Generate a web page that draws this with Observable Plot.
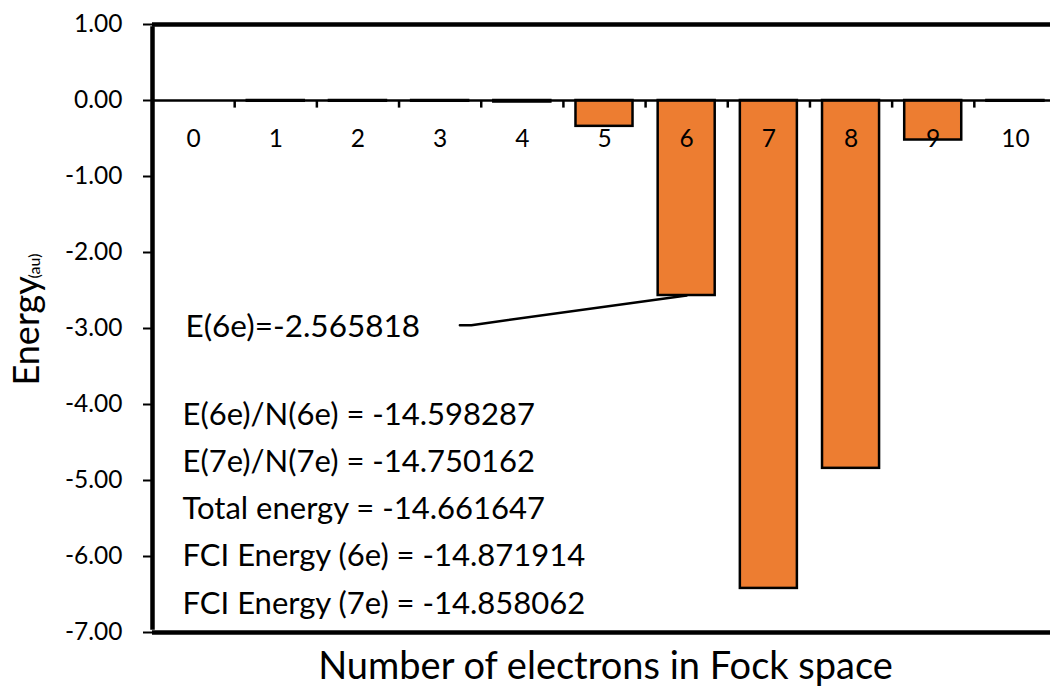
<!DOCTYPE html>
<html>
<head>
<meta charset="utf-8">
<script src="https://cdn.jsdelivr.net/npm/d3@7"></script>
<script src="https://cdn.jsdelivr.net/npm/@observablehq/plot@0.6"></script>
<style>
  html, body { margin: 0; padding: 0; background: #fff; overflow: hidden; width: 1050px; height: 686px; }
  #chart { width: 1050px; height: 686px; overflow: hidden; }
  #chart svg { display: block; }
</style>
</head>
<body>
<div id="chart"></div>
<script>
// ---- data ----
const electrons = [0, 1, 2, 3, 4, 5, 6, 7, 8, 9, 10];
const energies  = [0, -0.01, -0.01, -0.01, -0.02, -0.34, -2.565818, -6.42, -4.84, -0.52, -0.01];
const yTicks = [1, 0, -1, -2, -3, -4, -5, -6, -7];
const calloutText = "E(6e)=-2.565818";
const calloutIndex = 6;
const summaryLines = [
  "E(6e)/N(6e) = -14.598287",
  "E(7e)/N(7e) = -14.750162",
  "Total energy = -14.661647",
  "FCI Energy (6e) = -14.871914",
  "FCI Energy (7e) = -14.858062"
];
const xTitle = "Number of electrons in Fock space";
const yTitle = "Energy";
const yUnit = "(au)";

const data = electrons.map((n, i) => ({n, e: energies[i]}));
const boundaries = electrons.slice(1).map(n => n - 0.5);
const callout = [data[calloutIndex]];
const yMin = d3.min(yTicks), yMax = d3.max(yTicks);

const FONT = "Lato, 'Noto Sans', sans-serif";
const halfBar = 0.347;

const chart = Plot.plot({
  width: 1050,
  height: 686,
  marginLeft: 152,
  marginTop: 24,
  marginBottom: 54,
  marginRight: 0,
  style: {fontFamily: FONT, background: "#fff", color: "#000", overflow: "hidden"},
  x: {domain: [-0.5, 10.5], range: [152, 1056], axis: null},
  y: {domain: [yMin, yMax], axis: null},
  marks: [
    // bars
    Plot.rectY(data, {
      x1: d => d.n - halfBar, x2: d => d.n + halfBar, y1: 0, y2: "e",
      fill: "#ED7D31", stroke: "#000", strokeWidth: 2.5
    }),
    // zero line
    Plot.ruleY([0], {x1: -0.5, x2: 10.5, stroke: "#000", strokeWidth: 2.5}),
    // category boundary ticks
    Plot.ruleX(boundaries, {y1: 0, y2: -0.1, stroke: "#000", strokeWidth: 2.5}),
    // category labels
    Plot.text(electrons, {x: d => d, y: 0, dy: 39, text: d => String(d), fontSize: 24.5, fill: "#000"}),
    // y axis
    Plot.axisY(yTicks, {
      tickSize: 9, tickPadding: 21, tickFormat: d => d.toFixed(2),
      fontSize: 24.5, stroke: "#000", strokeWidth: 2, color: "#000"
    }),
    // frame (left, top, bottom; right edge lies beyond the window)
    Plot.ruleY([yMax, yMin], {x1: -0.5, x2: 10.5, stroke: "#000", strokeWidth: 4.5}),
    Plot.ruleX([-0.5], {y1: yMin, y2: yMax, stroke: "#000", strokeWidth: 4.5, insetTop: -2.25, insetBottom: -2.25}),
    // callout text + leader
    Plot.text(callout, {
      frameAnchor: "left", y: "e", dx: 33, dy: 31, text: () => calloutText,
      textAnchor: "start", fontSize: 31.5, fill: "#000"
    }),
    Plot.line([
      {x: 3.24, y: -2.565818 - 0.39},
      {x: 3.38, y: -2.565818 - 0.39},
      {x: 6.0, y: -2.565818}
    ], {x: "x", y: "y", stroke: "#000", strokeWidth: 2.5}),
    // summary block
    Plot.text([summaryLines.join("\n")], {
      frameAnchor: "bottom-left", dx: 30, dy: -19, lineAnchor: "bottom",
      lineHeight: 1.52, textAnchor: "start", fontSize: 31, fill: "#000"
    }),
    // axis titles
    Plot.text([xTitle], {
      frameAnchor: "bottom", dx: 453 - (1050 - 152) / 2, dy: 46, lineAnchor: "bottom",
      fontSize: 38, fill: "#000", text: d => d
    }),
    Plot.text([yTitle], {
      frameAnchor: "left", dx: -125, dy: 57, rotate: -90, textAnchor: "start",
      lineAnchor: "middle", fontSize: 36, fill: "#000", text: d => d
    }),
    Plot.text([yUnit], {
      frameAnchor: "left", dx: -118, dy: -50, rotate: -90, textAnchor: "start",
      lineAnchor: "middle", fontSize: 16, fill: "#000", text: d => d
    })
  ]
});
document.getElementById("chart").appendChild(chart);
</script>
</body>
</html>
